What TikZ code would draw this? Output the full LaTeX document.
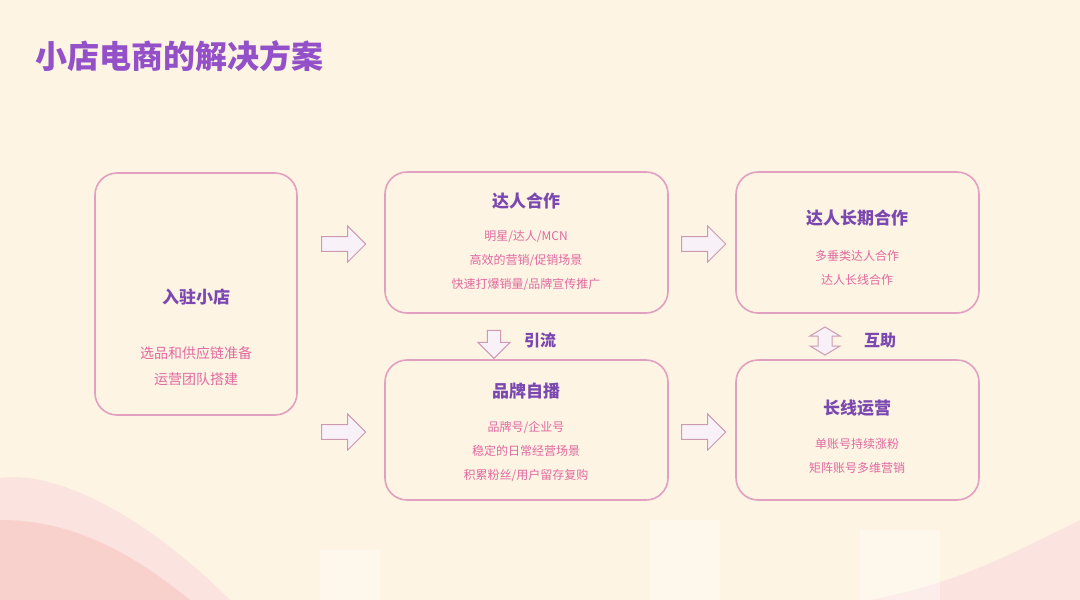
\documentclass[tikz,border=0pt]{standalone}
\usepackage{fontspec}
\newfontfamily\cjk{Noto Sans CJK SC}
\usetikzlibrary{shapes.arrows}
\definecolor{bg}{HTML}{FDF4E3}
\definecolor{boxline}{HTML}{E2A0C0}
\definecolor{ttl}{HTML}{9350C8}
\definecolor{head}{HTML}{7A48B0}
\definecolor{sub}{HTML}{E06AA0}
\definecolor{wave}{HTML}{F8D0CC}
\definecolor{arr}{HTML}{F8F2F8}
\tikzset{
  card/.style={draw=boxline, line width=1.6pt, rounded corners=22pt, fill=bg},
  hd/.style={text=head, font=\cjk\fontsize{17}{20}\selectfont\bfseries},
  sb/.style={text=sub, font=\cjk\fontsize{12}{24}\selectfont, align=center},
  sbl/.style={text=sub, font=\cjk\fontsize{14}{26}\selectfont, align=center},
  blk/.style={single arrow, draw=boxline!80!gray, fill=arr, line width=1pt, minimum height=44pt, minimum width=36pt, single arrow head extend=5pt, inner sep=3pt},
  dblkp/.style={draw=boxline!80!gray, fill=arr, line width=1pt},
  lbl/.style={text=head, font=\cjk\fontsize{16}{18}\selectfont\bfseries}
}
\begin{document}
\begin{tikzpicture}[x=1pt,y=-1pt]
\fill[bg] (0,0) rectangle (1080,600);
\useasboundingbox (0,0) rectangle (1080,600);
% decorative waves
\fill[wave!60] (0,478) .. controls (60,470) and (150,520) .. (230,600) -- (0,600) -- cycle;
\fill[wave] (0,520) .. controls (80,520) and (140,560) .. (190,600) -- (0,600) -- cycle;
\fill[wave!60] (1080,520) .. controls (1000,560) and (950,585) .. (870,600) -- (1080,600) -- cycle;
\fill[white,opacity=0.35] (320,550) rectangle (380,600);
\fill[white,opacity=0.35] (650,520) rectangle (720,600);
\fill[white,opacity=0.35] (860,530) rectangle (940,600);
\node[anchor=west, text=ttl, font=\cjk\fontsize{32}{36}\selectfont\bfseries] (title) at (32,56) {小店电商的解决方案};
% cards
\draw[card] (95,173) rectangle (297,415);
\draw[card] (385,172) rectangle (668,313);
\draw[card] (736,172) rectangle (979,313);
\draw[card] (385,360) rectangle (668,500);
\draw[card] (736,360) rectangle (979,500);
\node[hd] (h1) at (196,297) {入驻小店};
\node[sbl] (s1) at (196,366) {选品和供应链准备\\运营团队搭建};
\node[hd] (h2) at (526,201) {达人合作};
\node[sb] (s2) at (526,261) {明星/达人/MCN\\高效的营销/促销场景\\快速打爆销量/品牌宣传推广};
\node[hd] (h3) at (857,218) {达人长期合作};
\node[sb] (s3) at (857,268) {多垂类达人合作\\达人长线合作};
\node[hd] (h4) at (526,391) {品牌自播};
\node[sb] (s4) at (526,451) {品牌号/企业号\\稳定的日常经营场景\\积累粉丝/用户留存复购};
\node[hd] (h5) at (857,408) {长线运营};
\node[sb] (s5) at (857,456) {单账号持续涨粉\\矩阵账号多维营销};
% arrows
\node[blk] (a1) at (340,244) {};
\node[blk] (a2) at (340,432) {};
\node[blk] (a3) at (700,244) {};
\node[blk] (a4) at (700,432) {};
\node[blk, shape border rotate=270, minimum height=28pt, minimum width=32pt] (a5) at (494,341) {};
\coordinate (a6) at (825,341);
\draw[dblkp] ([shift={(0,-14)}]a6) -- ++(15,9) -- ++(-8,0) -- ++(0,10) -- ++(8,0) -- ++(-15,9) -- ++(-15,-9) -- ++(8,0) -- ++(0,-10) -- ++(-8,0) -- cycle;
\node[lbl] (l1) at (540,340) {引流};
\node[lbl] (l2) at (880,340) {互助};
\end{tikzpicture}
\end{document}
